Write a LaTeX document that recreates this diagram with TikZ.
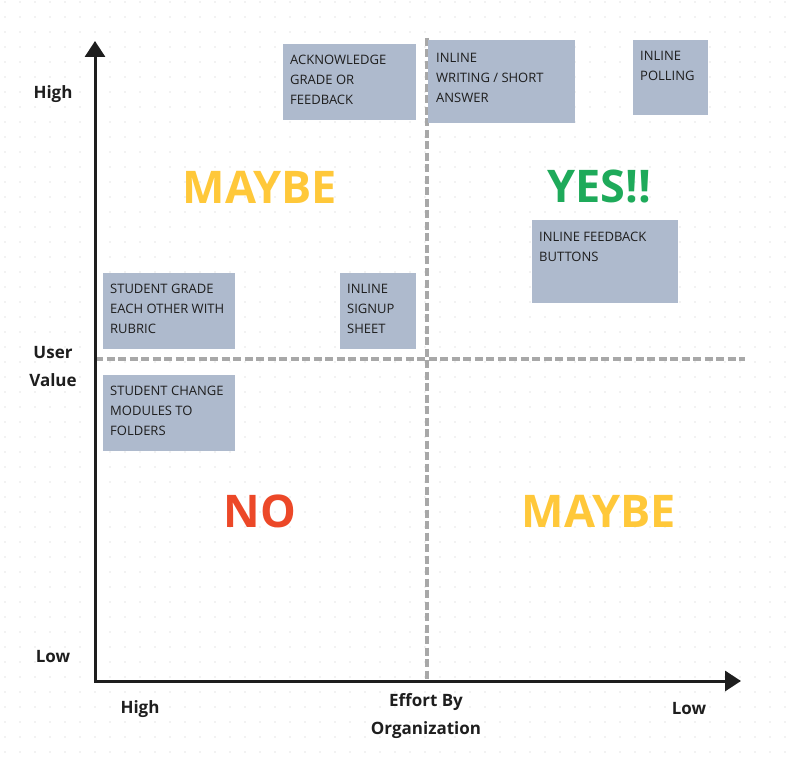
\documentclass[tikz,border=0pt]{standalone}
\usepackage{fontspec}
\setmainfont{Open Sans}
\usetikzlibrary{arrows.meta,positioning}
\definecolor{inkdark}{RGB}{30,30,30}
\definecolor{gridgray}{RGB}{200,200,200}
\definecolor{splitgray}{RGB}{168,168,168}
\definecolor{stickyblue}{RGB}{174,186,205}
\definecolor{maybeyellow}{RGB}{255,200,58}
\definecolor{yesgreen}{RGB}{30,170,90}
\definecolor{nored}{RGB}{236,72,40}
\tikzset{
  stickybox/.style={rectangle,fill=stickyblue,inner sep=0pt,anchor=north west},
  stickytxt/.style={inner sep=0pt,align=left,text=inkdark,font=\fontsize{13}{20}\selectfont},
  axlabel/.style={align=center,text=inkdark,font=\fontsize{17}{28}\selectfont\bfseries},
  verdict/.style={inner sep=0pt,font=\fontsize{45}{50}\selectfont\bfseries},
  axisarr/.style={{Triangle[length=16pt,width=20pt]}-{Triangle[length=16pt,width=20pt]},
                  line width=3pt,draw=inkdark,line join=miter},
  splitline/.style={line width=3.2pt,draw=splitgray,dash pattern=on 8pt off 3.5pt}
}

\begin{document}
\begin{tikzpicture}[x=1pt,y=-1pt]
  \useasboundingbox (0,0) rectangle (790,762);

  % dotted canvas
  \foreach \i in {0,...,52}
    \foreach \j in {0,...,50}
      \fill[gridgray] (5+15*\i,2+15*\j) circle (0.6pt);

  % quadrant dividers
  \coordinate (vtop) at (427,38);
  \coordinate (vbot) at (427,680);
  \coordinate (hleft) at (95,359);
  \coordinate (hright) at (745,359);
  \draw[splitline] (vtop) -- (vbot);
  \draw[splitline] (hleft) -- (hright);

  % axes
  \coordinate (ytop) at (95,41);
  \coordinate (orig) at (95,681);
  \coordinate (xend) at (741,681);
  \draw[axisarr] (ytop) -- (orig) -- (xend);

  \node[axlabel] (vhigh) at (53,94) {High};
  \node[axlabel] (vname) at (53,367) {User\\Value};
  \node[axlabel] (vlow) at (53,657) {Low};
  \node[axlabel] (ehigh) at (140,709) {High};
  \node[axlabel] (ename) at (426,716) {Effort By\\Organization};
  \node[axlabel] (elow) at (689,709) {Low};

  % verdicts
  \node[verdict,text=maybeyellow] (maybeA) at (260,187) {MAYBE};
  \node[verdict,text=yesgreen] (yes) at (599,187) {YES!!};
  \node[verdict,text=nored] (no) at (260,511) {NO};
  \node[verdict,text=maybeyellow] (maybeB) at (599,511) {MAYBE};

  % sticky notes
  \node[stickybox,minimum width=133pt,minimum height=76pt] (ack) at (283,44) {};
  \node[stickytxt,below right=11pt and 7pt of ack.north west] {ACKNOWLEDGE\\GRADE OR\\FEEDBACK};

  \node[stickybox,minimum width=147pt,minimum height=83pt] (writing) at (428,40) {};
  \node[stickytxt,below right=13pt and 8pt of writing.north west] {INLINE\\WRITING / SHORT\\ANSWER};

  \node[stickybox,minimum width=75pt,minimum height=75pt] (polling) at (633,40) {};
  \node[stickytxt,below right=11pt and 7pt of polling.north west] {INLINE\\POLLING};

  \node[stickybox,minimum width=146pt,minimum height=83pt] (buttons) at (532,220) {};
  \node[stickytxt,below right=12pt and 7pt of buttons.north west] {INLINE FEEDBACK\\BUTTONS};

  \node[stickybox,minimum width=132pt,minimum height=76pt] (rubric) at (103,273) {};
  \node[stickytxt,below right=11pt and 7pt of rubric.north west] {STUDENT GRADE\\EACH OTHER WITH\\RUBRIC};

  \node[stickybox,minimum width=76pt,minimum height=76pt] (signup) at (340,273) {};
  \node[stickytxt,below right=11pt and 7pt of signup.north west] {INLINE\\SIGNUP\\SHEET};

  \node[stickybox,minimum width=132pt,minimum height=76pt] (folders) at (103,375) {};
  \node[stickytxt,below right=11pt and 7pt of folders.north west] {STUDENT CHANGE\\MODULES TO\\FOLDERS};
\end{tikzpicture}
\end{document}
